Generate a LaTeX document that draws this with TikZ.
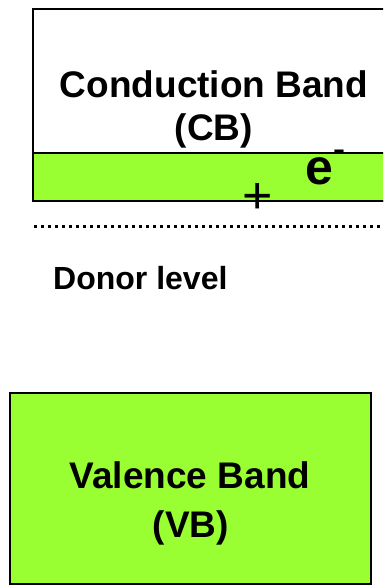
\documentclass[tikz,border=0pt]{standalone}
\usepackage{fontspec}
\setmainfont{Liberation Sans}
\definecolor{bandgreen}{RGB}{153,255,51}
\tikzset{
  band/.style={draw=black, line width=2pt, inner sep=0pt, outer sep=0pt, anchor=north west},
  bigtxt/.style={font=\bfseries\fontsize{37}{44}\selectfont, inner sep=0pt, anchor=base},
}
\begin{document}
\begin{tikzpicture}[x=1pt,y=-1pt]
\clip (0,0) rectangle (383,585);
\fill[white] (0,0) rectangle (383,585);
% conduction band box
\node[band, fill=white, minimum width=370pt, minimum height=192pt] (cb) at (33,9) {};
\node[band, fill=bandgreen, minimum width=370pt, minimum height=48pt] (cbg) at (33,153) {};
\node[bigtxt] (cbt1) at (214,98) {Conduction Band};
\node[bigtxt] (cbt2) at (214,141) {(CB)};
\node[font=\bfseries\fontsize{50}{60}\selectfont, inner sep=0pt, anchor=base west] (el) at (305,185) {e};
\node[font=\bfseries\fontsize{36}{40}\selectfont, inner sep=0pt, anchor=base west] (minus) at (333,162) {-};
\node[font=\fontsize{52}{60}\selectfont, inner sep=0pt, anchor=base] (plus) at (258,213) {+};
% donor level
\coordinate (dl) at (34,226);
\coordinate (dr) at (390,226);
\draw[line width=3pt, dash pattern=on 3pt off 4pt] (dl) -- (dr);
\node[font=\bfseries\fontsize{32}{36}\selectfont, inner sep=0pt, anchor=base west] (donor) at (53,289) {Donor level};
% valence band
\node[band, fill=bandgreen, minimum width=361pt, minimum height=191pt] (vb) at (10,393) {};
\node[bigtxt] (vbt1) at (190,488) {Valence Band};
\node[bigtxt] (vbt2) at (191,537) {(VB)};
\end{tikzpicture}
\end{document}
